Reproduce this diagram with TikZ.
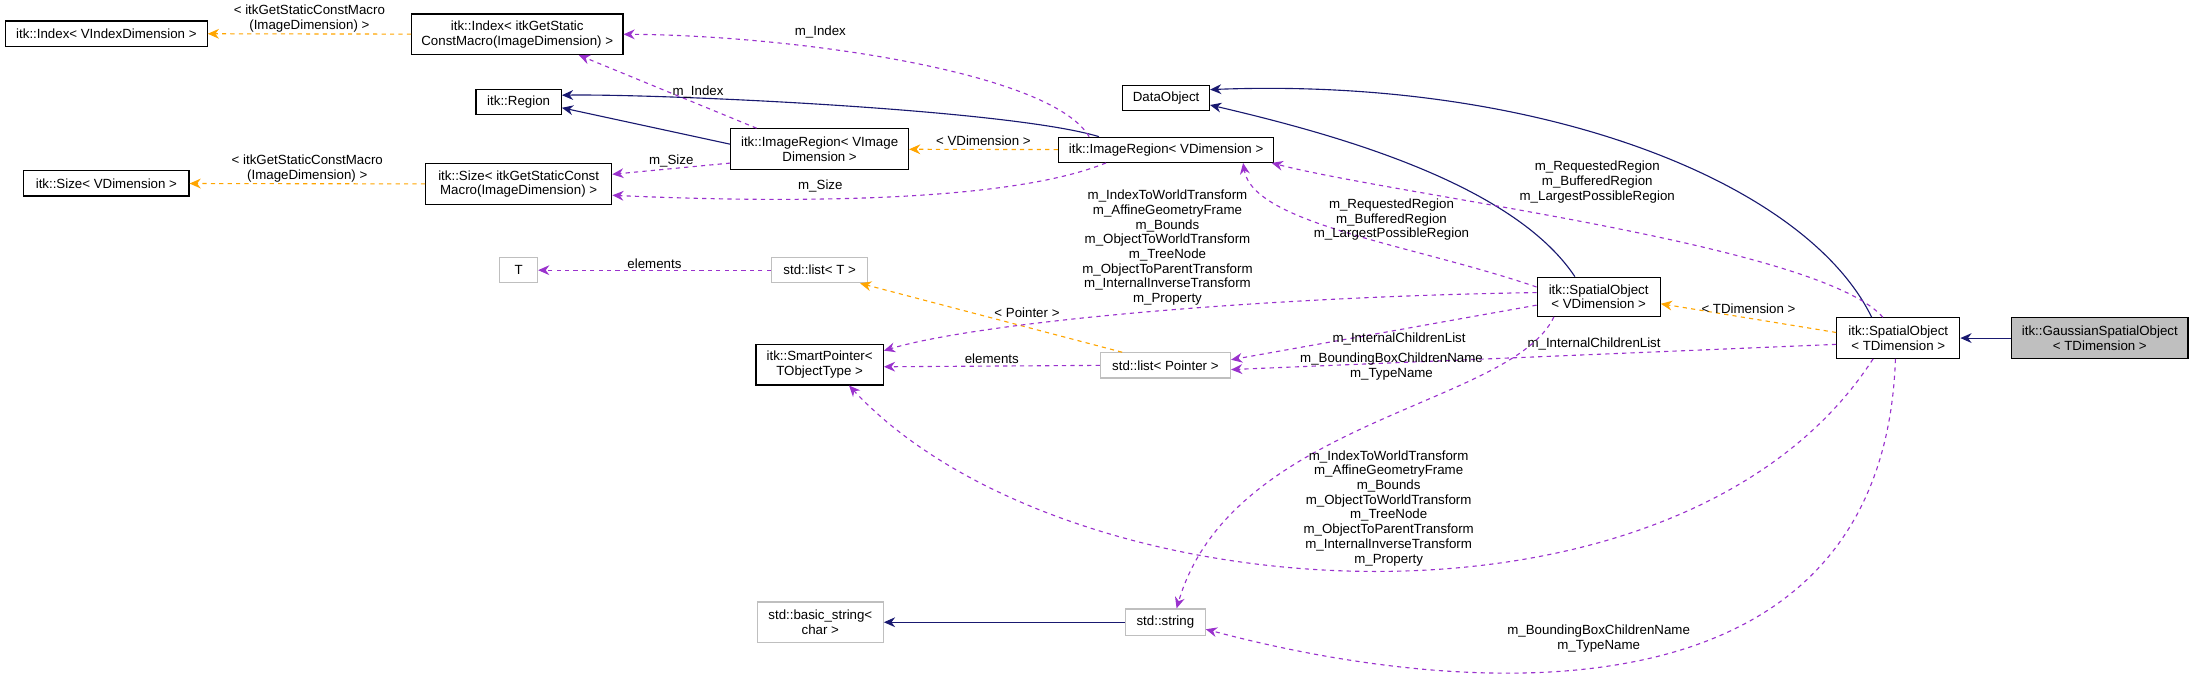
\documentclass[tikz,border=0pt]{standalone}
\usepackage{fontspec}
\setmainfont{Liberation Sans}
\usetikzlibrary{arrows.meta,positioning}
\definecolor{inhcolor}{RGB}{25,25,112}
\definecolor{tplcolor}{RGB}{255,165,0}
\definecolor{usecolor}{RGB}{154,50,205}
\definecolor{extcolor}{RGB}{191,191,191}
\tikzset{
  cls/.style={draw=black, thick, inner sep=1pt, align=center, font=\fontsize{9.5}{10.5}\selectfont},
  ext/.style={cls, draw=extcolor},
  inh/.style={draw=inhcolor, thick, -{Stealth[length=8pt,width=7pt]}},
  tpl/.style={draw=tplcolor, thick, dashed, -{Stealth[length=8pt,width=7pt]}},
  use/.style={draw=usecolor, thick, dashed, -{Stealth[length=8pt,width=7pt]}},
  lbl/.style={align=center, inner sep=0pt, font=\fontsize{9.5}{10.5}\selectfont}
}
\begin{document}
\begin{tikzpicture}[x=1pt, y=-1pt]
    \useasboundingbox (0,0) rectangle (1568,490);

    % Classes
    \node[cls, minimum width=144, minimum height=18] (idxv) at (76,24) {itk::Index< VIndexDimension >};
    \node[cls, minimum width=151, minimum height=29] (idxg) at (369.5,24.5) {itk::Index< itkGetStatic\\ConstMacro(ImageDimension) >};
    \node[cls, minimum width=61, minimum height=18] (region) at (370.5,73) {itk::Region};
    \node[cls, minimum width=127, minimum height=29] (irvi) at (585.5,106.5) {itk::ImageRegion< VImage\\Dimension >};
    \node[cls, minimum width=133, minimum height=29] (sizeg) at (370.5,131.5) {itk::Size< itkGetStaticConst\\Macro(ImageDimension) >};
    \node[cls, minimum width=118, minimum height=18] (sizev) at (76,131) {itk::Size< VDimension >};
    \node[cls, minimum width=154, minimum height=18] (irv) at (833,107) {itk::ImageRegion< VDimension >};
    \node[cls, minimum width=62, minimum height=18] (dobj) at (833,70) {DataObject};
    \node[ext, minimum width=27, minimum height=18] (tt) at (370.5,193) {T};
    \node[ext, minimum width=69, minimum height=18] (listt) at (585.5,193) {std::list< T >};
    \node[cls, minimum width=91, minimum height=29] (smp) at (585.5,260.5) {itk::SmartPointer<\\TObjectType >};
    \node[ext, minimum width=93, minimum height=18] (listp) at (832.5,261) {std::list< Pointer >};
    \node[cls, minimum width=88, minimum height=28] (spv) at (1142,212) {itk::SpatialObject\\< VDimension >};
    \node[cls, minimum width=88, minimum height=29] (spt) at (1356,241.5) {itk::SpatialObject\\< TDimension >};
    \node[cls, fill=extcolor, minimum width=126, minimum height=29] (gauss) at (1500,241.5) {itk::GaussianSpatialObject\\< TDimension >};
    \node[ext, minimum width=90, minimum height=29] (bstr) at (586,444.5) {std::basic\_string<\\char >};
    \node[ext, minimum width=57, minimum height=19] (str) at (832.5,444.5) {std::string};

    % Inheritance
    \draw[inh] (gauss) -- (spt);
    \draw[inh] ([xshift=-19]spt.north) .. controls (1290,130) and (1100,55) .. ([yshift=6]dobj.east);
    \draw[inh] ([xshift=-17]spv.north) .. controls (1080,130) and (950,95) .. ([yshift=-5]dobj.east);
    \draw[inh] ([xshift=-48]irv.north) .. controls (720,78) and (470,67) .. ([yshift=5]region.east);
    \draw[inh] ([yshift=3.5]irvi.west) -- ([yshift=-4]region.east);
    \draw[inh] (str) -- (bstr);

    % Template instances
    \draw[tpl] (idxg) -- node[lbl, above=1pt] {< itkGetStaticConstMacro\\(ImageDimension) >} (idxv);
    \draw[tpl] (sizeg) -- node[lbl, above=1pt] {< itkGetStaticConstMacro\\(ImageDimension) >} (sizev);
    \draw[tpl] (irv) -- node[lbl, above=2pt] {< VDimension >} (irvi);
    \draw[tpl] ([yshift=4]spt.west) -- node[lbl, above=3pt] {< TDimension >} ([yshift=-5]spv.east);
    \draw[tpl] ([xshift=16]listp.north west) -- node[lbl, above right=0pt and 2pt] {< Pointer >} ([xshift=-6]listt.south east);

    % Usage
    \draw[use] ([xshift=-45]irvi.north) -- node[lbl, right=3pt] {m\_Index} ([xshift=44]idxg.south);
    \draw[use] ([xshift=-55]irv.north) .. controls (750,50) and (560,25) .. (idxg.east);
    \node[lbl] (lidx) at (586,23) {m\_Index};
    \draw[use] ([yshift=-10]irvi.west) -- node[lbl, above=1pt] {m\_Size} ([yshift=7]sizeg.east);
    \draw[use] ([xshift=-43]irv.south) .. controls (720,145) and (560,145) .. ([yshift=-8]sizeg.east);
    \node[lbl] (lsize) at (586,133) {m\_Size};
    \draw[use] ([yshift=7]spv.west) .. controls (1010,175) and (895,160) .. ([xshift=55]irv.south);
    \node[lbl] (lrr1) at (994,157) {m\_RequestedRegion\\m\_BufferedRegion\\m\_LargestPossibleRegion};
    \draw[use] ([xshift=-11]spt.north) .. controls (1300,175) and (1000,140) .. ([xshift=-2]irv.south east);
    \node[lbl] (lrr2) at (1141,130) {m\_RequestedRegion\\m\_BufferedRegion\\m\_LargestPossibleRegion};
    \draw[use] ([yshift=3]spv.west) .. controls (900,212) and (700,230) .. ([yshift=10]smp.east);
    \node[lbl] (lsmp1) at (834,177) {m\_IndexToWorldTransform\\m\_AffineGeometryFrame\\m\_Bounds\\m\_ObjectToWorldTransform\\m\_TreeNode\\m\_ObjectToParentTransform\\m\_InternalInverseTransform\\m\_Property};
    \draw[use] ([yshift=-6]spv.west) -- node[lbl, below=2pt, pos=0.45] {m\_InternalChildrenList} ([yshift=4]listp.east);
    \draw[use] ([yshift=-4.5]spt.west) -- node[lbl, above=3pt, pos=0.4] {m\_InternalChildrenList} ([yshift=-3]listp.east);
    \draw[use] (listp.west) -- node[lbl, above=1pt] {elements} ([yshift=-1.5]smp.east);
    \draw[use] (listt) -- node[lbl, above=1pt] {elements} (tt);
    \draw[use] ([xshift=-32]spv.south) .. controls (1080,290) and (880,300) .. ([xshift=8]str.north);
    \node[lbl] (lbb1) at (994,262) {m\_BoundingBoxChildrenName\\m\_TypeName};
    \draw[use] ([xshift=-18]spt.south) .. controls (1200,470) and (760,440) .. ([xshift=21]smp.south);
    \node[lbl] (lsmp2) at (992,363) {m\_IndexToWorldTransform\\m\_AffineGeometryFrame\\m\_Bounds\\m\_ObjectToWorldTransform\\m\_TreeNode\\m\_ObjectToParentTransform\\m\_InternalInverseTransform\\m\_Property};
    \draw[use] ([xshift=-2]spt.south) .. controls (1345,520) and (1050,500) .. ([yshift=-5]str.east);
    \node[lbl] (lbb2) at (1142,456) {m\_BoundingBoxChildrenName\\m\_TypeName};
\end{tikzpicture}
\end{document}
